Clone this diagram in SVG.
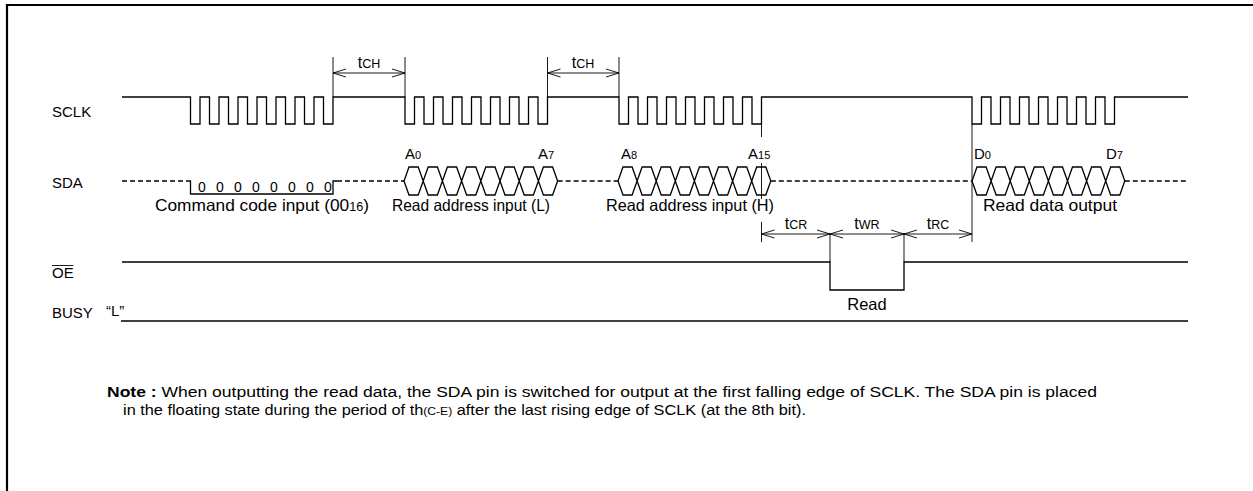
<svg xmlns="http://www.w3.org/2000/svg" width="1253" height="491" viewBox="0 0 1253 491">
<style>
.w{fill:none;stroke:#000;stroke-width:1.3}
.d{stroke-dasharray:5 3}
.m{fill:none;stroke:#000;stroke-width:0.9}
.dim{marker-start:url(#ah);marker-end:url(#ah)}
text{font-family:"Liberation Sans",Arial,sans-serif;fill:#000}
.lb{font-size:15px}
.sl{font-size:16.5px}
.s{font-size:11px}
.tl{font-size:16px}
.sc{font-size:12.5px}
</style>
<defs>
<marker id="ah" viewBox="-14 -5 15 10" refX="0" refY="0" markerWidth="15" markerHeight="10" markerUnits="userSpaceOnUse" orient="auto-start-reverse">
<path d="M-13,-4 L0,0 L-13,4" fill="none" stroke="#000" stroke-width="0.9"/>
</marker>
</defs>
<rect width="1253" height="491" fill="#fff"/>
<path d="M7,491 V5 H1253" fill="none" stroke="#000" stroke-width="2.2"/>

<g id="SCLK">
<text class="lb" x="52" y="117">SCLK</text>
<path class="w" d="M122,97 H190.5 V124 H200 V97 H209.5 V124 H219 V97 H228.5 V124 H238 V97 H247.5 V124 H257 V97 H266.5 V124 H276 V97 H285.5 V124 H295 V97 H304.5 V124 H314 V97 H323.5 V124 H333 V97 H405 V124 H414.5 V97 H424 V124 H433.5 V97 H443 V124 H452.5 V97 H462 V124 H471.5 V97 H481 V124 H490.5 V97 H500 V124 H509.5 V97 H519 V124 H528.5 V97 H538 V124 H547.5 V97 H619 V124 H628.5 V97 H638 V124 H647.5 V97 H657 V124 H666.5 V97 H676 V124 H685.5 V97 H695 V124 H704.5 V97 H714 V124 H723.5 V97 H733 V124 H742.5 V97 H752 V124 H761.5 V97 H972 V124 H981.5 V97 H991 V124 H1000.5 V97 H1010 V124 H1019.5 V97 H1029 V124 H1038.5 V97 H1048 V124 H1057.5 V97 H1067 V124 H1076.5 V97 H1086 V124 H1095.5 V97 H1105 V124 H1114.5 V97 H1188"/>
</g>

<g id="SDA">
<text class="lb" x="52" y="188">SDA</text>
<path class="w d" d="M122,181 H186 M337,181 H404 M557.6,181 H618 M770.8,181 H972 M1124.8,181 H1188"/>
<path class="w" d="M186,181 H190.5 V194 H333 V181 H337"/>
<g font-size="14">
<text x="202" y="191.5" text-anchor="middle">0</text>
<text x="220" y="191.5" text-anchor="middle">0</text>
<text x="238" y="191.5" text-anchor="middle">0</text>
<text x="256" y="191.5" text-anchor="middle">0</text>
<text x="274" y="191.5" text-anchor="middle">0</text>
<text x="292" y="191.5" text-anchor="middle">0</text>
<text x="310" y="191.5" text-anchor="middle">0</text>
<text x="328" y="191.5" text-anchor="middle">0</text>
</g>
<path class="w" d="M404,181 L409,167 H418.2 L423.2,181 L418.2,195 H409 Z M423.2,181 L428.2,167 H437.4 L442.4,181 L437.4,195 H428.2 Z M442.4,181 L447.4,167 H456.6 L461.6,181 L456.6,195 H447.4 Z M461.6,181 L466.6,167 H475.8 L480.8,181 L475.8,195 H466.6 Z M480.8,181 L485.8,167 H495 L500,181 L495,195 H485.8 Z M500,181 L505,167 H514.2 L519.2,181 L514.2,195 H505 Z M519.2,181 L524.2,167 H533.4 L538.4,181 L533.4,195 H524.2 Z M538.4,181 L543.4,167 H552.6 L557.6,181 L552.6,195 H543.4 Z"/>
<path class="w" d="M618,181 L623,167 H632.1 L637.1,181 L632.1,195 H623 Z M637.1,181 L642.1,167 H651.2 L656.2,181 L651.2,195 H642.1 Z M656.2,181 L661.2,167 H670.3 L675.3,181 L670.3,195 H661.2 Z M675.3,181 L680.3,167 H689.4 L694.4,181 L689.4,195 H680.3 Z M694.4,181 L699.4,167 H708.5 L713.5,181 L708.5,195 H699.4 Z M713.5,181 L718.5,167 H727.6 L732.6,181 L727.6,195 H718.5 Z M732.6,181 L737.6,167 H746.7 L751.7,181 L746.7,195 H737.6 Z M751.7,181 L756.7,167 H765.8 L770.8,181 L765.8,195 H756.7 Z"/>
<path class="w" d="M972,181 L977,167 H986.1 L991.1,181 L986.1,195 H977 Z M991.1,181 L996.1,167 H1005.2 L1010.2,181 L1005.2,195 H996.1 Z M1010.2,181 L1015.2,167 H1024.3 L1029.3,181 L1024.3,195 H1015.2 Z M1029.3,181 L1034.3,167 H1043.4 L1048.4,181 L1043.4,195 H1034.3 Z M1048.4,181 L1053.4,167 H1062.5 L1067.5,181 L1062.5,195 H1053.4 Z M1067.5,181 L1072.5,167 H1081.6 L1086.6,181 L1081.6,195 H1072.5 Z M1086.6,181 L1091.6,167 H1100.7 L1105.7,181 L1100.7,195 H1091.6 Z M1105.7,181 L1110.7,167 H1119.8 L1124.8,181 L1119.8,195 H1110.7 Z"/>
<text class="lb" x="405" y="159">A<tspan class="s">0</tspan></text>
<text class="lb" x="538" y="159">A<tspan class="s">7</tspan></text>
<text class="lb" x="621" y="159">A<tspan class="s">8</tspan></text>
<text class="lb" x="748" y="159">A<tspan class="s">15</tspan></text>
<text class="lb" x="974" y="159">D<tspan class="s">0</tspan></text>
<text class="lb" x="1106" y="159">D<tspan class="s">7</tspan></text>
<text class="sl" x="155" y="211" textLength="214" lengthAdjust="spacingAndGlyphs">Command code input (00<tspan font-size="12">16</tspan>)</text>
<text class="sl" x="392" y="211" textLength="158" lengthAdjust="spacingAndGlyphs">Read address input (L)</text>
<text class="sl" x="606" y="211" textLength="168" lengthAdjust="spacingAndGlyphs">Read address input (H)</text>
<text class="sl" x="983" y="211" textLength="134" lengthAdjust="spacingAndGlyphs">Read data output</text>
</g>

<g id="OE">
<text class="lb" x="52" y="278">OE</text>
<path class="m" d="M52,265.5 H73.5"/>
<path class="w" d="M122,262 H830 V290 H904 V262 H1188"/>
<text class="sl" x="867" y="310" text-anchor="middle">Read</text>
</g>

<g id="BUSY">
<text class="lb" x="52" y="318">BUSY</text>
<text class="lb" x="106" y="316">“L”</text>
<path class="w" d="M121,321 H1188"/>
</g>

<g id="connectors">
<path class="m" d="M333,57 V97 M405,57 V97 M547.5,57 V97 M619,57 V97"/>
<path class="m dim" d="M333,73 H405"/>
<path class="m dim" d="M547.5,73 H619"/>
<path class="m" d="M761.5,124 V137 M761.5,163 V199 M761.5,222 V242 M972,124 V242 M830,233 V262 M904,233 V262"/>
<path class="m dim" d="M761.5,234 H830"/>
<path class="m dim" d="M830,234 H904"/>
<path class="m dim" d="M904,234 H972"/>
</g>

<g id="labels">
<text class="tl" x="369" y="68" text-anchor="middle">t<tspan class="sc">CH</tspan></text>
<text class="tl" x="583" y="68" text-anchor="middle">t<tspan class="sc">CH</tspan></text>
<text class="tl" x="796" y="229" text-anchor="middle">t<tspan class="sc">CR</tspan></text>
<text class="tl" x="867" y="229" text-anchor="middle">t<tspan class="sc">WR</tspan></text>
<text class="tl" x="938" y="229" text-anchor="middle">t<tspan class="sc">RC</tspan></text>
</g>

<g id="note">
<text x="107" y="397" font-size="15.5" textLength="990" lengthAdjust="spacingAndGlyphs"><tspan font-weight="bold">Note :</tspan> When outputting the read data, the SDA pin is switched for output at the first falling edge of SCLK. The SDA pin is placed</text>
<text x="123" y="415" font-size="15.5" textLength="683" lengthAdjust="spacingAndGlyphs">in the floating state during the period of th<tspan font-size="11.5">(C-E)</tspan> after the last rising edge of SCLK (at the 8th bit).</text>
</g>
</svg>
